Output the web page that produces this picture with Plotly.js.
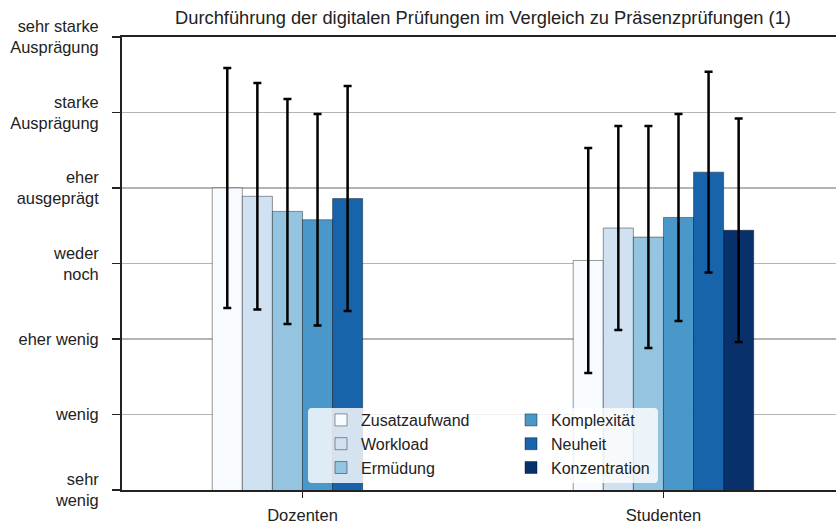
<!DOCTYPE html>
<html><head><meta charset="utf-8">
<script src="https://cdn.plot.ly/plotly-3.0.1.min.js"></script>
<style>body{margin:0;background:#fff}#chart{width:836px;height:528px}</style>
</head><body><div id="chart"></div>
<script>
const groups = ["Dozenten", "Studenten"];
const seriesNames = ["Zusatzaufwand", "Workload", "Ermüdung", "Komplexität", "Neuheit", "Konzentration"];
const meanZusatzaufwand = [5.00, 4.04];
const meanWorkload = [4.89, 4.47];
const meanErmuedung = [4.69, 4.35];
const meanKomplexitaet = [4.58, 4.61];
const meanNeuheit = [4.86, 5.21];
const meanKonzentration = [null, 4.44];
const sdZusatzaufwand = [1.59, 1.49];
const sdWorkload = [1.50, 1.35];
const sdErmuedung = [1.49, 1.47];
const sdKomplexitaet = [1.40, 1.37];
const sdNeuheit = [1.49, 1.33];
const sdKonzentration = [null, 1.48];
const yTickVals = [1, 2, 3, 4, 5, 6, 7];
const yTickText = ["sehr<br>wenig", "wenig", "eher wenig", "weder<br>noch", "eher<br>ausgeprägt", "starke<br>Ausprägung", "sehr starke<br>Ausprägung"];
const colors = ["#f7fbff", "#d0e1f2", "#94c4df", "#4a98c9", "#1764ab", "#08306b"];

const means = [meanZusatzaufwand, meanWorkload, meanErmuedung, meanKomplexitaet, meanNeuheit, meanKonzentration];
const sds = [sdZusatzaufwand, sdWorkload, sdErmuedung, sdKomplexitaet, sdNeuheit, sdKonzentration];
const font = "Liberation Sans, Arial, sans-serif";

const traces = seriesNames.map((n, i) => ({
  type: "bar", name: n, x: groups, y: means[i],
  legend: i < 3 ? "legend" : "legend2",
  marker: {color: colors[i], line: {color: "rgba(0,0,0,0.4)", width: 1}},
  error_y: {type: "data", array: sds[i], visible: true, color: "black", thickness: 2.5, width: 4}
}));

const rx = 4/714, ry = 4/453;
const x0 = (308-122)/714, x1 = (658-122)/714, y0 = (490-483)/453, y1 = (490-408)/453;
const path = `M${x0+rx},${y0} L${x1-rx},${y0} Q${x1},${y0} ${x1},${y0+ry} L${x1},${y1-ry} Q${x1},${y1} ${x1-rx},${y1} L${x0+rx},${y1} Q${x0},${y1} ${x0},${y1-ry} L${x0},${y0+ry} Q${x0},${y0} ${x0+rx},${y0} Z`;

const layout = {
  width: 836, height: 528,
  margin: {l: 122, r: 0, t: 37, b: 38},
  paper_bgcolor: "white", plot_bgcolor: "white",
  font: {family: font, size: 16, color: "#222"},
  title: {text: "Durchführung der digitalen Prüfungen im Vergleich zu Präsenzprüfungen (1)",
          x: (483-122)/714, xref: "paper", xanchor: "center", y: 1 - 18/528, yanchor: "middle",
          font: {family: font, size: 18.3, color: "#222"}},
  barmode: "group", bargap: 0.5, bargroupgap: 0,
  xaxis: {type: "category", range: [-0.5, 1.478], showline: true, linecolor: "#222", linewidth: 2,
          mirror: true, ticks: "outside", ticklen: 6, tickwidth: 1.5, tickcolor: "#222",
          showgrid: false, zeroline: false, tickfont: {size: 16.5}, ticklabelstandoff: 3},
  yaxis: {range: [1, 7], tickvals: yTickVals, ticktext: yTickText, showline: true, linecolor: "#222",
          linewidth: 2, ticks: "outside", ticklen: 8, tickwidth: 1.5, tickcolor: "#222",
          showgrid: true, gridcolor: "#b4b4b4", gridwidth: 1.5, zeroline: false,
          tickfont: {size: 16.4}, ticklabelstandoff: 10},
  shapes: [{type: "path", xref: "paper", yref: "paper", path: path, layer: "above",
            fillcolor: "rgba(255,255,255,0.82)", line: {width: 0}}],
  legend: {x: (321-122)/714, y: y1 + 5/453, xanchor: "left", yanchor: "top",
           bgcolor: "rgba(0,0,0,0)", font: {size: 16}, tracegroupgap: 0},
  legend2: {x: (511-122)/714, y: y1 + 5/453, xanchor: "left", yanchor: "top",
           bgcolor: "rgba(0,0,0,0)", font: {size: 16}, tracegroupgap: 0},
  showlegend: true
};
Plotly.newPlot("chart", traces, layout, {displayModeBar: false, staticPlot: true});
</script></body></html>
